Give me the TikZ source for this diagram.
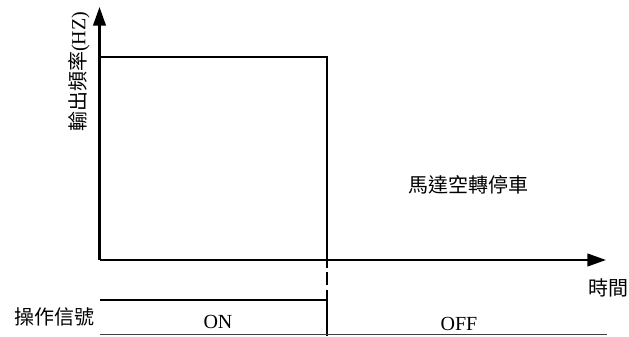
\documentclass[tikz,border=0pt]{standalone}
\usepackage{fontspec}
\setmainfont{Liberation Serif}
\newfontfamily\cjk{Noto Sans CJK TC}
\usetikzlibrary{arrows.meta}
\begin{document}
\begin{tikzpicture}[x=0.75pt,y=-0.75pt,
  axis/.style={line width=1.6pt,-{Triangle[length=14pt,width=9.5pt]}},
  sig/.style={line width=1.6pt},
  thin/.style={line width=0.8pt,draw=black!75},
  lbl/.style={inner sep=0pt,font=\fontsize{15pt}{17pt}\selectfont}]
\useasboundingbox (0,0) rectangle (629,336);
\coordinate (O) at (99.5,260);
\coordinate (ytip) at (99.5,7);
\coordinate (xtip) at (606,260);
\coordinate (ftl) at (99.5,57);
\coordinate (ftr) at (327,57);
\coordinate (fdn) at (327,268);
\coordinate (d1) at (327,272);
\coordinate (d2) at (327,285);
\coordinate (s0) at (327,290);
\coordinate (sb) at (327,336);
\coordinate (sl) at (99.5,300);
\coordinate (sr) at (327,300);
\coordinate (bl) at (99.5,334.5);
\coordinate (br) at (607,334.5);
\draw[axis] (O) -- (ytip);
\draw[axis] (O) -- (xtip);
\draw[sig] (ftl) -- (ftr) -- (fdn);
\draw[sig] (d1) -- (d2);
\draw[sig] (s0) -- (sb);
\draw[sig] (sl) -- (sr);
\draw[thin] (bl) -- (br);
\node[lbl,rotate=90] (ylab) at (79,72) {{\cjk 輸出頻率}(HZ)};
\node[lbl] (motor) at (468,185) {\cjk 馬達空轉停車};
\node[lbl] (time) at (608,288) {\cjk 時間};
\node[lbl] (op) at (55,317) {\cjk 操作信號};
\node[lbl] (on) at (218,322) {ON};
\node[lbl] (off) at (459,324) {OFF};
\end{tikzpicture}
\end{document}
